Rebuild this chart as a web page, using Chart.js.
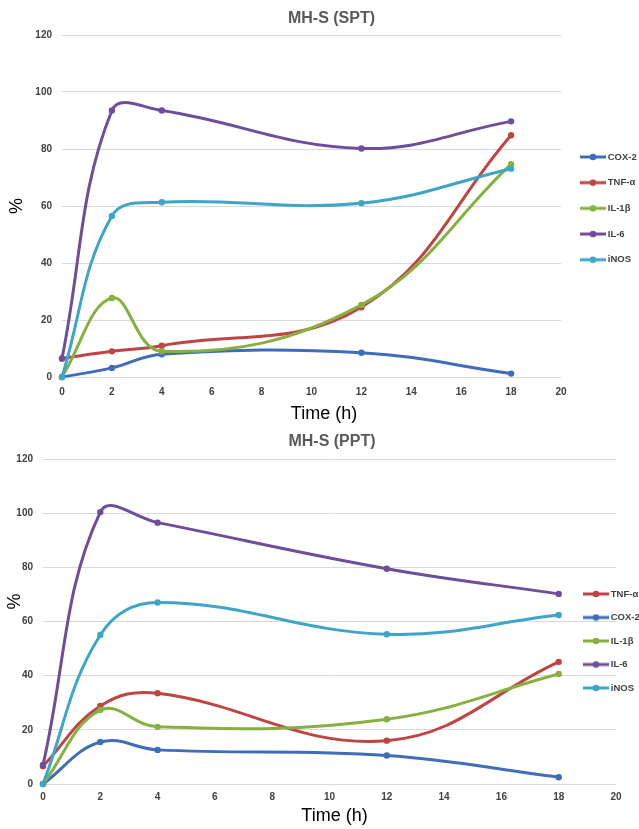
<!DOCTYPE html>
<html>
<head>
<meta charset="utf-8">
<title>MH-S (SPT) / MH-S (PPT)</title>
<script src="https://cdn.jsdelivr.net/npm/chart.js@4.4.1/dist/chart.umd.min.js"></script>
<style>
  html, body { margin: 0; padding: 0; background: #fff; }
  canvas { display: block; }
</style>
</head>
<body>
<canvas id="chartSpt" width="639" height="426"></canvas>
<canvas id="chartPpt" width="639" height="403"></canvas>
<script>
/* =================================================================
   MH-S: ekspresja markerów zapalnych (%) w czasie – SPT i PPT
   ================================================================= */

// punkty czasowe (h)
const timePoints = [0, 2, 4, 12, 18];

// MH-S (SPT)
const sptCox2 = [0, 3.2, 8, 8.5, 1.2];
const sptTnf  = [6.5, 9, 11, 24.5, 84.8];
const sptIl1b = [0, 27.7, 9, 25.3, 74.7];
const sptIl6  = [6.5, 93.5, 93.5, 80.2, 89.7];
const sptInos = [0, 56.5, 61.3, 61, 73.1];

// MH-S (PPT)
const pptTnf  = [6.6, 28.8, 33.5, 16, 45.1];
const pptCox2 = [0, 15.5, 12.6, 10.5, 2.5];
const pptIl1b = [0, 27.3, 21.1, 23.9, 40.6];
const pptIl6  = [7, 100.4, 96.5, 79.5, 70.2];
const pptInos = [0, 55, 67, 55.3, 62.4];

const seriesColors = {
    'COX-2': '#3F6DBA',
    'TNF-α': '#BE4543',
    'IL-1β': '#86B140',
    'IL-6':  '#6E4D9B',
    'iNOS':  '#3EA5C6'
};

Chart.defaults.font.family = "'Liberation Sans', Arial, sans-serif";
Chart.defaults.animation = false;

/**
 * Mały znacznik legendy: linia z kropką (jak w Excelu)
 */
function legendMarker(color) {
    const c = document.createElement('canvas');
    c.width = 26;
    c.height = 8;
    const g = c.getContext('2d');
    g.strokeStyle = color;
    g.lineWidth = 3;
    g.beginPath();
    g.moveTo(0, 4);
    g.lineTo(26, 4);
    g.stroke();
    g.fillStyle = color;
    g.beginPath();
    g.arc(13, 4, 3.3, 0, Math.PI * 2);
    g.fill();
    return c;
}

function makeDataset(label, values, index, count) {
    const color = seriesColors[label];
    return {
        label: label,
        data: timePoints.map((t, i) => ({ x: t, y: values[i] })),
        borderColor: color,
        backgroundColor: color,
        borderWidth: 3,
        pointRadius: 3.2,
        pointHoverRadius: 4,
        pointBorderWidth: 0,
        tension: 0.4,
        fill: false,
        clip: 8,
        order: count - index   // późniejsze serie rysowane na wierzchu
    };
}

// przesuwa tytuł i legendę w miejsca z oryginału
const placeBoxes = {
    id: 'placeBoxes',
    afterLayout(chart, args, opts) {
        const title = chart.titleBlock;
        const half = (title.right - title.left) / 2;
        title.left = opts.titleX - half;
        title.right = opts.titleX + half;

        const legend = chart.legend;
        legend.left = opts.legendX;
        legend.right = opts.legendX + legend.width;
        legend.top = opts.legendY;
        legend.height = 200;
        legend.bottom = opts.legendY + 200;
    }
};

/**
 * Rysuje jeden wykres
 * @param {string} canvasId
 * @param {string} titleText
 * @param {Array} series - [[etykieta, wartości], ...]
 * @param {Object} box - geometria (piksele)
 */
function drawTimeChart(canvasId, titleText, series, box) {
    const ctx = document.getElementById(canvasId).getContext('2d');
    const datasets = series.map((s, i) => makeDataset(s[0], s[1], i, series.length));

    return new Chart(ctx, {
        type: 'line',
        data: { datasets: datasets },
        plugins: [placeBoxes],
        options: {
            responsive: false,
            devicePixelRatio: 1,
            layout: { padding: { left: 0, right: box.padRight, top: 0, bottom: 0 } },
            plugins: {
                title: {
                    display: true,
                    text: titleText,
                    color: '#595959',
                    font: { size: 16, weight: 'bold' },
                    padding: { top: box.titleTop, bottom: box.titleBottom }
                },
                legend: {
                    display: true,
                    position: 'chartArea',
                    align: 'start',
                    labels: {
                        usePointStyle: true,
                        pointStyleWidth: 20,
                        padding: box.legendPad,
                        color: '#404040',
                        font: { size: 9.5, weight: 'bold' },
                        generateLabels: chart => chart.data.datasets.map((ds, i) => ({
                            text: ds.label,
                            fillStyle: ds.borderColor,
                            strokeStyle: ds.borderColor,
                            lineWidth: 0,
                            pointStyle: legendMarker(ds.borderColor),
                            fontColor: '#404040',
                            hidden: false,
                            datasetIndex: i
                        }))
                    }
                },
                tooltip: { enabled: false },
                placeBoxes: { titleX: box.titleX, legendX: box.legendX, legendY: box.legendY }
            },
            scales: {
                x: {
                    type: 'linear',
                    min: 0,
                    max: 20,
                    afterFit: scale => { scale.height = box.xHeight; },
                    grid: { display: false, drawTicks: false },
                    border: { display: false },
                    ticks: {
                        stepSize: 2,
                        padding: box.xTickPad,
                        color: '#404040',
                        font: { size: 10, weight: 'bold' }
                    },
                    title: {
                        display: true,
                        text: box.xTitle,
                        color: '#000',
                        font: { size: 18 },
                        padding: { top: 0, bottom: box.xTitlePad }
                    }
                },
                y: {
                    min: 0,
                    max: 120,
                    afterFit: scale => { scale.width = box.yWidth; },
                    grid: { color: '#D9D9D9', lineWidth: 1, drawTicks: false },
                    border: { display: false },
                    ticks: {
                        stepSize: 20,
                        padding: 10,
                        color: '#404040',
                        font: { size: 10, weight: 'bold' }
                    },
                    title: {
                        display: true,
                        text: box.yTitle,
                        color: '#000',
                        font: { size: 18 },
                        padding: { top: box.yTitlePad, bottom: 0 }
                    }
                }
            }
        }
    });
}

drawTimeChart('chartSpt', 'MH-S (SPT)', [
    ['COX-2', sptCox2],
    ['TNF-α', sptTnf],
    ['IL-1β', sptIl1b],
    ['IL-6', sptIl6],
    ['iNOS', sptInos]
], {
    padRight: 78, titleTop: 9.4, titleBottom: 6.4, titleX: 331.5,
    yWidth: 62, yTitlePad: 6.7, yTitle: '%',
    xHeight: 49, xTickPad: 9, xTitlePad: 1.2, xTitle: '     Time (h)',
    legendPad: 16.2, legendX: 566.8, legendY: 136
});

drawTimeChart('chartPpt', 'MH-S (PPT)', [
    ['TNF-α', pptTnf],
    ['COX-2', pptCox2],
    ['IL-1β', pptIl1b],
    ['IL-6', pptIl6],
    ['iNOS', pptInos]
], {
    padRight: 23, titleTop: 6.4, titleBottom: 7.4, titleX: 332,
    yWidth: 43, yTitlePad: 4.7, yTitle: '        %',
    xHeight: 45, xTickPad: 7, xTitlePad: 2.2, xTitle: '  Time (h)',
    legendPad: 14, legendX: 572, legendY: 149.25
});
</script>
</body>
</html>
